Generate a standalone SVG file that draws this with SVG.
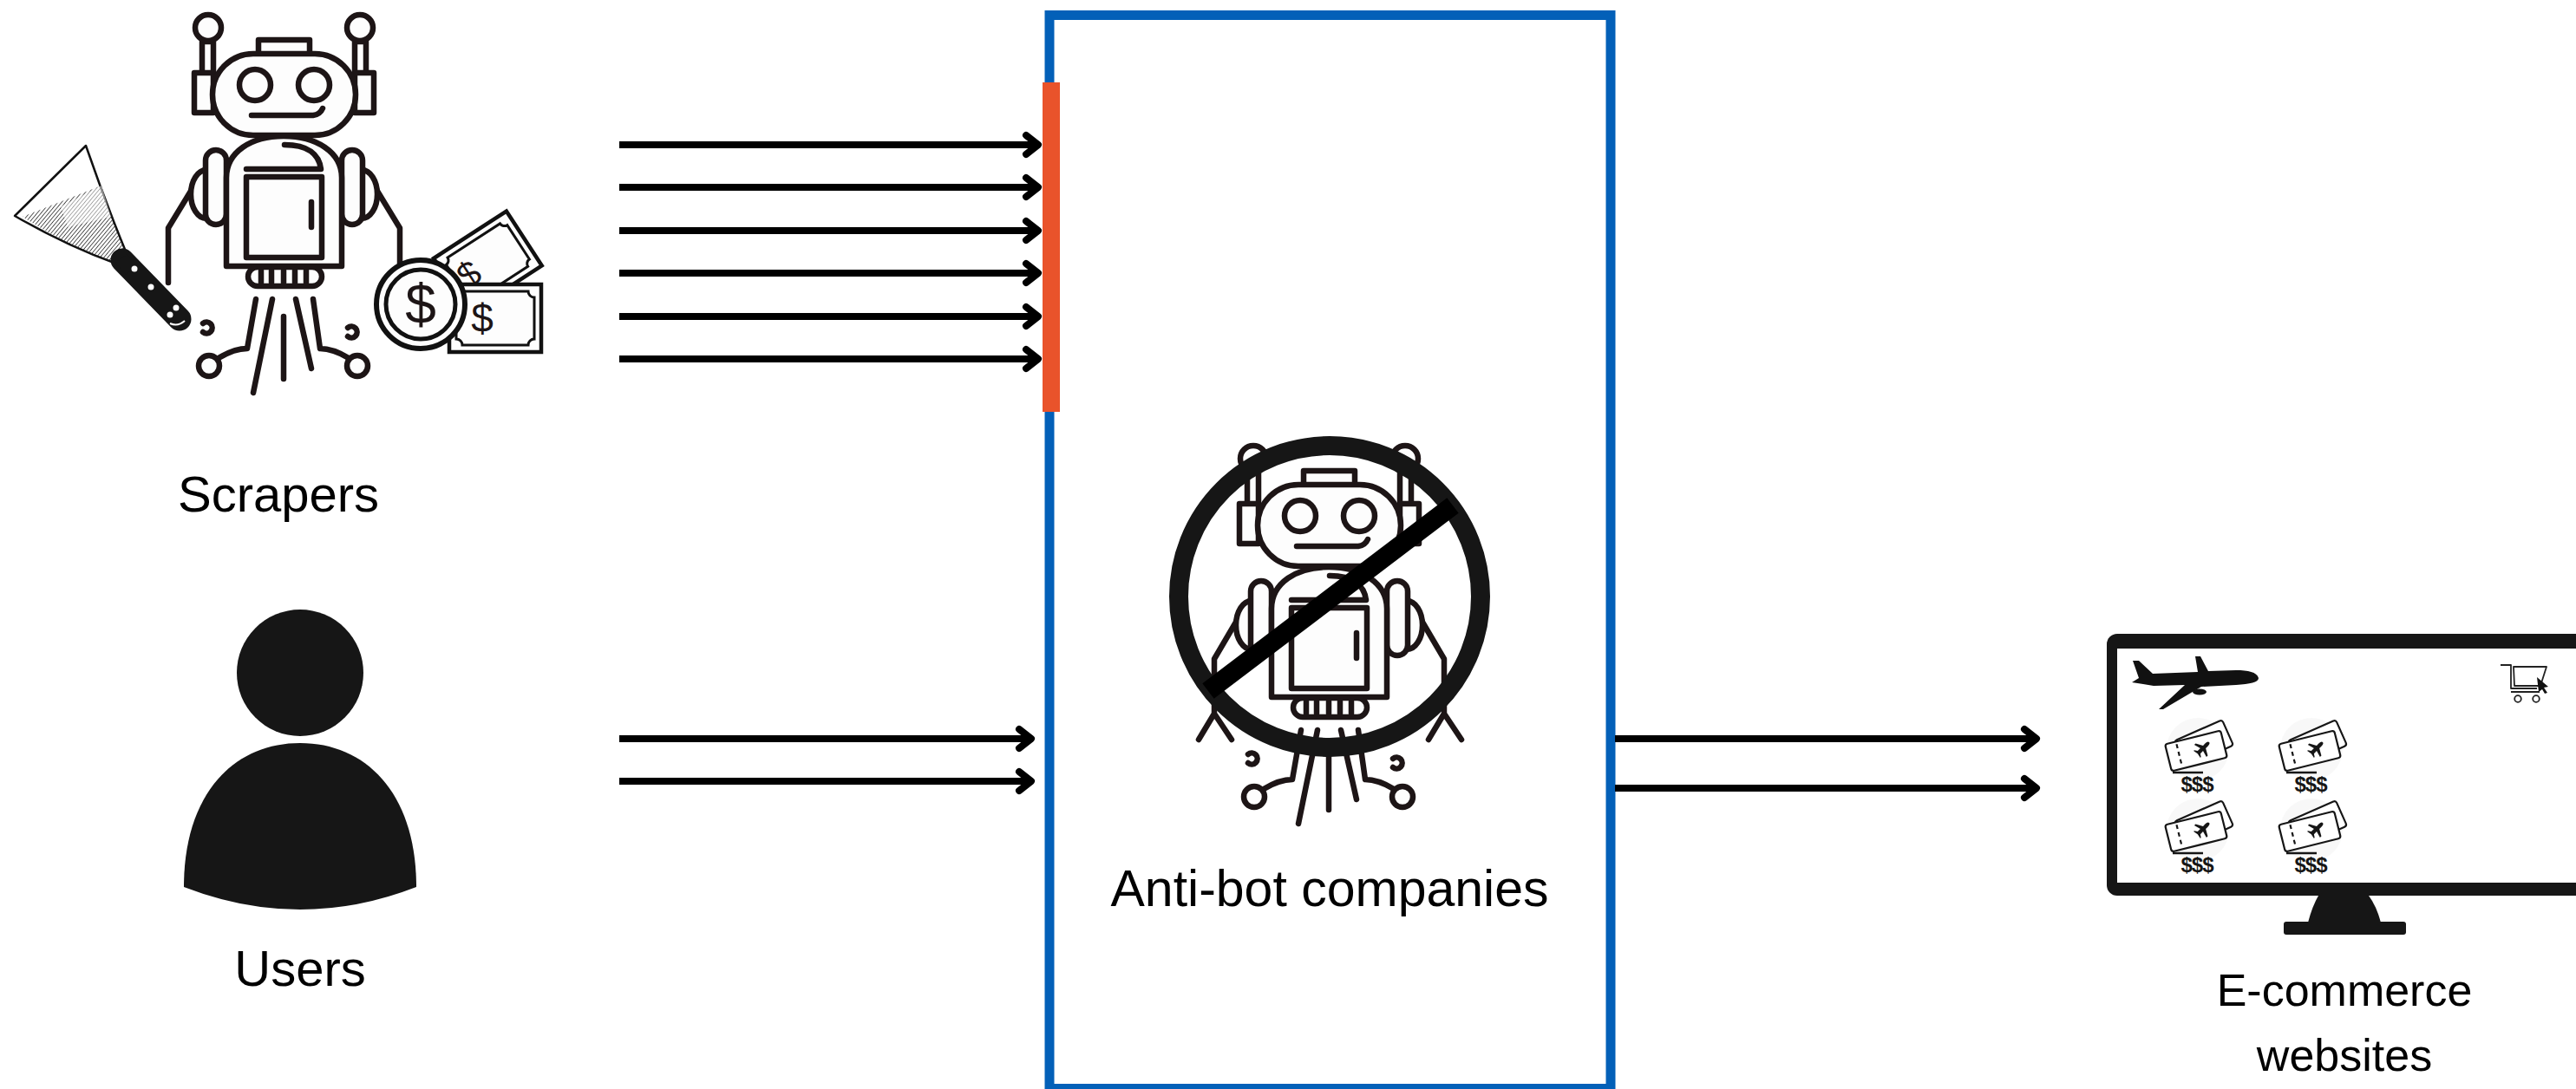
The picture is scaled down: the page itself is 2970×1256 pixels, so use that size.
<svg xmlns="http://www.w3.org/2000/svg" width="2970" height="1256" viewBox="0 0 2970 1256">
<style>
  .lbl{font-family:"Liberation Sans",Arial,sans-serif;fill:#000;text-anchor:middle}
  .ink{fill:#fdfdfd;stroke:#1d1516;stroke-width:6.5;stroke-linejoin:round;stroke-linecap:round}
  .open{fill:none}
  .flow{stroke:#000;stroke-width:8;fill:none;marker-end:url(#chev)}
  .tk{fill:#fff;stroke:#161616;stroke-width:2.2;stroke-linejoin:round}
  .cash{font-family:"Liberation Sans",Arial,sans-serif;fill:#1d1516;text-anchor:middle}
  .price{font-family:"Liberation Sans",Arial,sans-serif;font-weight:bold;font-size:24px;fill:#161616;text-anchor:middle;letter-spacing:-1px}
</style>
<defs>
  <marker id="chev" markerUnits="userSpaceOnUse" viewBox="-20 -16 24 32" markerWidth="24" markerHeight="32" refX="0" refY="0" orient="auto" overflow="visible">
    <path d="M-14,-11 L0,0 L-14,11" fill="none" stroke="#000" stroke-width="8" stroke-linecap="round" stroke-linejoin="round"/>
  </marker>
  <pattern id="hatch" width="3.4" height="3.4" patternUnits="userSpaceOnUse" patternTransform="rotate(40)">
    <line x1="0" y1="0" x2="0" y2="3.4" stroke="#222" stroke-width="1.5"/>
  </pattern>

  <!-- robot figure: head, torso, arms, thrusters -->
  <g id="robot">
    <ellipse class="ink" cx="238" cy="224" rx="18" ry="28"/>
    <ellipse class="ink" cx="417" cy="224" rx="18" ry="28"/>
    <rect class="ink" x="237" y="173" width="24" height="86" rx="12"/>
    <rect class="ink" x="394" y="173" width="24" height="86" rx="12"/>
    <rect class="ink" x="233" y="48" width="13" height="38"/>
    <rect class="ink" x="409" y="48" width="13" height="38"/>
    <circle class="ink" cx="240" cy="32" r="15"/>
    <circle class="ink" cx="415" cy="32" r="15"/>
    <rect class="ink" x="224" y="84" width="22" height="46"/>
    <rect class="ink" x="409" y="84" width="22" height="46"/>
    <rect class="ink" x="298" y="46" width="59" height="17"/>
    <rect class="ink" x="245" y="62" width="165" height="94" rx="47"/>
    <circle class="ink" cx="294" cy="98" r="18"/>
    <circle class="ink" cx="362" cy="98" r="18"/>
    <path class="ink open" d="M290,133 H361 Q369,132 372,125"/>
    <path class="ink" d="M261,307 V205 C261,175 290,157 327,157 C364,157 394,175 394,205 V307 Z"/>
    <path class="ink open" d="M328,167 C355,167 368,178 370,195 M284,195 H370"/>
    <rect class="ink" x="284" y="204" width="87" height="93"/>
    <path class="ink open" d="M359,233 V262"/>
    <rect class="ink" x="286" y="308" width="85" height="22" rx="11"/>
    <path class="ink open" d="M301,312 V326 M313,312 V326 M327,312 V326 M340,312 V326 M353,312 V326"/>
    <path class="ink open" d="M314,345 L292,453 M327,365 V437 M341,345 L359,425 M295,345 L285,402 Q270,402 252,413 M361,345 L369,402 Q384,402 402,413"/>
    <circle class="ink" cx="241" cy="422" r="12"/>
    <circle class="ink" cx="412" cy="422" r="12"/>
    <path class="ink open" d="M234,373 A6.5,6.5 0 1 1 234,383"/>
    <path class="ink open" d="M401,378 A6.5,6.5 0 1 1 401,388"/>
  </g>

  <!-- airline ticket pair with price -->
  <g id="ticket">
    <circle cx="2" cy="-2" r="36" fill="#f8f8f8"/>
    <g transform="translate(9,-9) rotate(-24)">
      <rect class="tk" x="-30" y="-16" width="60" height="32" rx="3"/>
    </g>
    <g transform="rotate(-14)">
      <rect class="tk" x="-33" y="-16" width="66" height="32" rx="3"/>
      <line x1="-20" y1="-13" x2="-20" y2="14" stroke="#161616" stroke-width="2.2" stroke-dasharray="5 4"/>
    </g>
    <path transform="translate(8,-3) rotate(45) scale(1.1)" fill="#161616" d="M0,-9 Q2,-9 2,-5 L2,-2 L9,2 L9,4 L2,2 L2,6 L5,8 L5,9 L0,8 L-5,9 L-5,8 L-2,6 L-2,2 L-9,4 L-9,2 L-2,-2 L-2,-5 Q-2,-9 0,-9 Z"/>
    <line x1="-27" y1="25" x2="8" y2="25" stroke="#161616" stroke-width="2.5"/>
    <text class="price" x="1" y="47">$$$</text>
  </g>
</defs>

<rect width="2970" height="1256" fill="#fff"/>

<!-- Scrapers -->
<g id="scrapers">
  <path class="ink open" d="M222,217 L194,263 V326 M433,217 L461,263 V305"/>
  <use href="#robot"/>
  <!-- scraper blade and handle -->
  <g id="scraper-tool">
    <path d="M17,249 L99,168 Q121,232 147,295 L134,304 Q78,284 17,249 Z" fill="#fff" stroke="#111" stroke-width="2.5" stroke-linejoin="round"/>
    <path d="M26,250 L117,214 Q130,255 146,295 L134,304 Q78,284 26,250 Z" fill="url(#hatch)"/>
    <path d="M70,238 L117,214 L128,250 L78,262 Z" fill="#fff" opacity="0.5"/>
    <path d="M141,300 L207,368" stroke="#161616" stroke-width="27" stroke-linecap="round"/>
    <path d="M133,303 L147,293 L158,306 L145,317 Z" fill="#161616"/>
    <circle cx="155" cy="310" r="3.5" fill="#fff"/>
    <circle cx="174" cy="331" r="3.5" fill="#fff"/>
    <circle cx="203" cy="355" r="3.5" fill="#fff"/>
    <circle cx="196" cy="363" r="3.5" fill="#fff"/>
    <path d="M196,373 Q205,377 213,370" stroke="#fff" stroke-width="2" fill="none"/>
  </g>
  <!-- money -->
  <g id="money">
    <g transform="translate(500,298) rotate(-33)">
      <rect x="0" y="0" width="100" height="75" fill="#fdfdfd" stroke="#111" stroke-width="4.5"/>
      <path d="M14,8 H86 A6,6 0 0 0 92,14 V61 A6,6 0 0 0 86,67 H14 A6,6 0 0 0 8,61 V14 A6,6 0 0 0 14,8 Z" fill="none" stroke="#111" stroke-width="3"/>
      <text class="cash" x="24" y="52" font-size="42">$</text>
    </g>
    <rect x="518" y="328" width="106" height="78" fill="#fdfdfd" stroke="#111" stroke-width="4.5"/>
    <path d="M533,336 H609 A7,7 0 0 0 616,343 V391 A7,7 0 0 0 609,398 H533 A7,7 0 0 0 526,391 V343 A7,7 0 0 0 533,336 Z" fill="none" stroke="#111" stroke-width="3"/>
    <text class="cash" x="556" y="383" font-size="46">$</text>
    <circle cx="485" cy="351" r="51" fill="#fdfdfd" stroke="#111" stroke-width="6"/>
    <circle cx="485" cy="351" r="40" fill="#fdfdfd" stroke="#111" stroke-width="5"/>
    <text class="cash" x="485" y="373" font-size="64">$</text>
  </g>
  <text class="lbl" x="321" y="590" font-size="58">Scrapers</text>
</g>

<!-- Users -->
<g id="users">
  <circle cx="346" cy="776" r="73" fill="#161616"/>
  <path d="M212,1023 C212,915 270,857 346,857 C422,857 480,915 480,1023 Q346,1075 212,1023 Z" fill="#161616"/>
  <text class="lbl" x="346" y="1137" font-size="58">Users</text>
</g>

<!-- Anti-bot companies -->
<g id="anti-bot">
  <rect x="1210" y="17.5" width="647" height="1238" fill="#fff" stroke="#0360B8" stroke-width="11"/>
  <g transform="translate(1205,497)">
    <path class="ink open" d="M222,217 L195,263 V326 M177,356 L195,326 L215,356 M433,217 L460,263 V326 M442,356 L460,326 L480,356"/>
    <use href="#robot"/>
  </g>
  <circle cx="1533" cy="688" r="174" fill="none" stroke="#161616" stroke-width="22"/>
  <line x1="1393" y1="797" x2="1675" y2="583" stroke="#000" stroke-width="22"/>
  <rect x="1202" y="95" width="20" height="380" fill="#E9532B"/>
  <text class="lbl" x="1533" y="1045" font-size="59">Anti-bot companies</text>
</g>

<!-- E-commerce websites -->
<g id="ecommerce">
  <rect x="2429" y="731" width="620" height="302" rx="12" fill="#161616"/>
  <rect x="2441" y="748" width="600" height="270" fill="#fff"/>
  <path d="M2673,1033 L2731,1033 Q2740,1045 2745,1064 L2661,1064 Q2666,1045 2673,1033 Z" fill="#161616"/>
  <rect x="2633" y="1063" width="141" height="15" rx="3" fill="#161616"/>
  <!-- airliner -->
  <path fill="#111" d="M2604,782 C2602,775 2592,773 2578,773 L2546,774 L2537,757 L2531,757 L2534,775 L2482,777 L2466,762 L2459,762 L2466,782 L2458,787 L2471,789 L2483,791 L2519,790 L2489,818 L2494,818 L2538,792 L2578,790 C2594,789 2604,787 2604,782 Z"/>
  <ellipse cx="2536" cy="798" rx="8" ry="3.5" fill="#111"/>
  <!-- cart -->
  <g fill="none" stroke="#222" stroke-width="1.8" stroke-linejoin="round">
    <path d="M2883,767 H2895 V794 H2925"/>
    <path d="M2898,769 H2936 L2929,791 H2899 Z"/>
    <path d="M2895,798 H2928"/>
    <circle cx="2903" cy="806" r="3.8"/>
    <circle cx="2924" cy="806" r="3.8"/>
  </g>
  <path d="M2925,781 L2938,792 L2933,793 L2937,799 L2934,800 L2931,795 L2927,798 Z" fill="#111"/>
  <use href="#ticket" transform="translate(2532,866)"/>
  <use href="#ticket" transform="translate(2663,866)"/>
  <use href="#ticket" transform="translate(2532,959)"/>
  <use href="#ticket" transform="translate(2663,959)"/>
  <text class="lbl" x="2703" y="1160" font-size="52">E-commerce</text>
  <text class="lbl" x="2703" y="1235" font-size="52">websites</text>
</g>

<!-- request flows -->
<g id="connectors">
  <line class="flow" x1="714" y1="167" x2="1197" y2="167"/>
  <line class="flow" x1="714" y1="216" x2="1197" y2="216"/>
  <line class="flow" x1="714" y1="266" x2="1197" y2="266"/>
  <line class="flow" x1="714" y1="315" x2="1197" y2="315"/>
  <line class="flow" x1="714" y1="365" x2="1197" y2="365"/>
  <line class="flow" x1="714" y1="414" x2="1197" y2="414"/>
  <line class="flow" x1="714" y1="852" x2="1189" y2="852"/>
  <line class="flow" x1="714" y1="901" x2="1189" y2="901"/>
  <line class="flow" x1="1862" y1="852" x2="2348" y2="852"/>
  <line class="flow" x1="1862" y1="909" x2="2348" y2="909"/>
</g>
</svg>
